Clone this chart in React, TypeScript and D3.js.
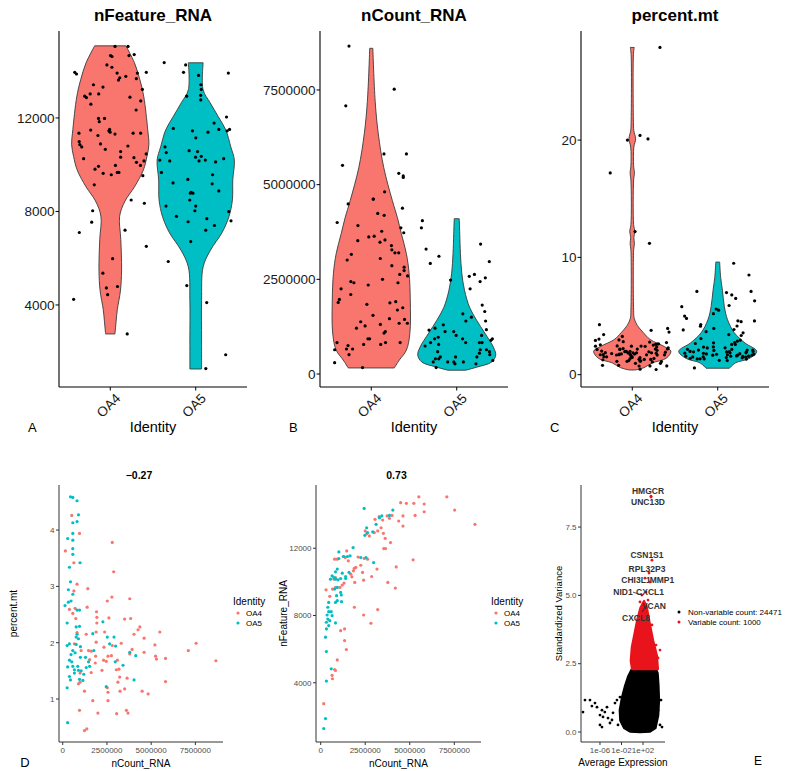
import React from "react";
import * as d3 from "d3";

// ---------------- DATA ----------------
const groups = ["OA4", "OA5"];
const groupColors = ["#F8766D", "#00BFC4"];

// nCount_RNA (millions) vs nFeature_RNA, read from the nFeature ~ nCount scatter
const oa4CountFeature: [number, number][] = [
  [7.08, 15060], [5.51, 15060], [7.52, 14270], [8.66, 13420], [4.49, 14710], [4.81, 14670], [5.23, 14670],
  [5.81, 14630], [5.81, 14170], [5.30, 13950], [4.62, 13920], [4.38, 13620], [4.62, 13320], [3.92, 12340],
  [3.54, 11980], [3.64, 11980], [3.62, 12590], [4.00, 13950], [3.86, 13780], [3.73, 13920], [3.48, 13680],
  [3.28, 13880], [3.05, 13720], [3.39, 13220], [3.20, 13030], [3.52, 12890], [3.01, 12930], [2.73, 12730],
  [2.59, 12870], [2.50, 13030], [5.19, 11310], [4.24, 10890], [4.19, 9630], [3.77, 9970], [3.16, 10760],
  [2.86, 10320], [3.20, 8350], [2.82, 7540], [2.41, 8030], [1.89, 8490], [2.41, 10100], [2.35, 10560],
  [2.25, 10990], [2.44, 11390], [2.63, 11350], [1.88, 10800], [1.97, 10860], [1.84, 10660], [1.69, 10460],
  [1.91, 9970], [1.38, 11450], [1.46, 11840], [1.27, 11510], [0.78, 11350], [0.93, 11350], [1.21, 9810],
  [1.31, 9930], [1.08, 9670], [0.83, 9670], [0.66, 9570], [0.51, 9140], [0.30, 9530], [0.75, 10160],
  [0.83, 10260], [1.34, 7200], [1.12, 7100], [1.34, 6510], [1.44, 5980], [0.93, 5360], [0.78, 4790],
  [0.83, 4730], [0.64, 4440], [0.66, 4240], [0.17, 2760], [1.55, 11250], [2.10, 11480], [1.75, 10300],
];
const oa5CountFeature: [number, number][] = [
  [2.44, 14370], [4.05, 14270], [3.86, 13950], [3.43, 13920], [3.30, 13820], [3.11, 13420], [2.92, 12970],
  [2.58, 13220], [2.48, 12770], [2.63, 12930], [1.82, 12040], [1.50, 11510], [1.65, 11550], [1.02, 11780],
  [1.02, 11390], [1.30, 11510], [2.54, 11450], [2.25, 11450], [2.97, 11150], [1.59, 10560], [1.40, 10320],
  [1.21, 10520], [0.93, 10760], [0.83, 10600], [0.74, 10260], [0.64, 10360], [0.55, 10160], [0.83, 10160],
  [0.97, 10120], [1.12, 10200], [1.40, 10200], [0.93, 9670], [1.12, 9370], [1.16, 9220], [0.78, 9570],
  [0.89, 9180], [0.93, 8880], [0.83, 8780], [1.17, 8820], [0.45, 8780], [0.40, 8490], [0.45, 8230],
  [0.59, 8230], [0.36, 8030], [0.64, 7990], [0.40, 7790], [0.32, 7600], [0.51, 7690], [0.45, 7400],
  [0.32, 7200], [0.83, 7560], [0.27, 6710], [0.32, 5860], [0.59, 4830], [0.32, 4100], [0.27, 1870], [0.17, 1280],
];

// nCount_RNA (millions) vs percent.mt, read from the percent.mt ~ nCount scatter
const oa4CountMt: [number, number][] = [
  [8.66, 1.68], [7.54, 1.99], [7.10, 1.86], [5.81, 1.72], [5.81, 1.31], [5.30, 1.71], [5.25, 1.76], [5.21, 1.96],
  [5.49, 2.19], [4.83, 1.09], [4.49, 1.14], [4.60, 1.83], [4.60, 2.08], [4.36, 2.28], [4.26, 2.23], [4.03, 2.15],
  [3.92, 1.88], [3.79, 1.80], [3.69, 0.75], [3.60, 0.80], [3.84, 2.43], [3.50, 2.42], [3.79, 2.78], [3.64, 1.37],
  [3.50, 1.18], [3.24, 1.14], [3.05, 0.74], [3.18, 1.53], [3.09, 1.69], [3.31, 1.99], [2.88, 3.26], [2.80, 3.78],
  [2.78, 2.81], [2.52, 2.74], [2.61, 2.44], [2.80, 1.95], [2.75, 1.77], [2.56, 1.76], [2.46, 1.67], [3.03, 1.52],
  [3.12, 1.30], [3.22, 1.39], [2.52, 1.20], [2.56, 1.12], [2.56, 0.97], [2.37, 2.19], [2.33, 1.92], [2.22, 1.51],
  [2.31, 1.69], [1.91, 2.55], [1.93, 2.45], [1.93, 2.35], [1.89, 2.19], [1.89, 2.01], [1.86, 1.76], [1.84, 1.64],
  [1.99, 0.75], [1.70, 0.97], [1.52, 1.70], [1.46, 1.86], [1.38, 2.63], [1.42, 2.96], [1.33, 2.15], [1.23, 1.14],
  [1.23, 0.44], [1.36, 0.47], [0.51, 4.26], [0.95, 3.94], [0.15, 3.63], [0.63, 3.42], [0.63, 2.92], [0.81, 3.04],
  [0.70, 2.61], [0.38, 2.59], [0.57, 2.52], [0.74, 2.43], [0.66, 1.98], [0.95, 0.80], [0.89, 1.27], [0.98, 1.30],
  [1.04, 1.86], [0.98, 1.46], [1.61, 1.47], [1.61, 1.85], [0.81, 2.18],
];
const oa5CountMt: [number, number][] = [
  [0.44, 4.59], [0.57, 4.58], [0.81, 4.52], [0.89, 4.27], [0.57, 4.13], [0.81, 4.15], [0.57, 3.94], [0.28, 3.85],
  [0.57, 3.82], [0.57, 3.67], [0.57, 3.57], [0.98, 3.42], [0.38, 3.34], [0.44, 3.08], [0.32, 2.94], [0.57, 2.86],
  [0.47, 2.74], [0.13, 2.66], [0.32, 2.72], [0.81, 2.58], [0.95, 2.58], [0.25, 2.35], [0.76, 2.28], [0.95, 2.29],
  [0.81, 2.15], [0.76, 2.10], [0.89, 2.07], [0.38, 1.98], [0.25, 1.95], [0.76, 1.97], [1.00, 1.93], [0.57, 1.86],
  [0.47, 1.79], [0.70, 1.82], [0.38, 1.69], [0.51, 1.66], [1.00, 1.74], [1.29, 1.74], [1.46, 1.66], [1.52, 1.58],
  [1.70, 2.16], [2.27, 2.37], [2.52, 2.10], [2.90, 2.10], [2.65, 1.98], [2.99, 1.94], [3.79, 1.83], [4.13, 1.77],
  [2.97, 1.66], [3.41, 1.60], [0.85, 1.58], [0.57, 1.58], [0.28, 1.57], [0.66, 1.52], [0.89, 1.51], [1.04, 1.50],
  [1.19, 1.44], [0.66, 1.46], [0.38, 1.40], [0.95, 1.35], [1.14, 1.33], [0.44, 1.34], [0.25, 1.20], [1.33, 1.56],
  [4.03, 1.34], [2.46, 1.22], [0.28, 0.58], [1.76, 1.86],
];

// high percent.mt cells only visible in the percent.mt violin
const oa4MtOutliers = [27.9, 20.0, 20.4, 20.1, 17.2, 12.2, 11.2];
const oa5MtOutliers = [9.5, 8.5, 7.1, 7.0, 7.1, 6.8, 6.5, 6.3, 5.8, 5.6, 5.9, 5.5, 5.2, 5.0, 4.8];

// violin density profiles: [value, relative half-width]
const featureProfileOA4: [number, number][] = [
  [2760, 0.12], [3300, 0.15], [3800, 0.18], [4600, 0.26], [5500, 0.29], [6800, 0.27], [7800, 0.24], [8450, 0.38],
  [9050, 0.62], [9780, 0.85], [10350, 0.94], [10850, 0.99], [11500, 0.96], [12900, 0.86], [13630, 0.76],
  [14360, 0.62], [15085, 0.40],
];
const featureProfileOA5: [number, number][] = [
  [1260, 0.15], [2500, 0.15], [4200, 0.15], [5630, 0.19], [6350, 0.38], [7080, 0.67], [7770, 0.85], [8490, 0.94],
  [9350, 0.95], [10200, 0.99], [10760, 0.90], [11490, 0.77], [12050, 0.58], [12650, 0.37], [13200, 0.19], [14360, 0.19],
];
const countProfileOA4: [number, number][] = [
  [160000, 0.59], [370000, 0.72], [630000, 0.9], [1080000, 0.99], [1950000, 1.0], [2660000, 0.97], [3180000, 0.9],
  [3710000, 0.77], [4130000, 0.67], [4580000, 0.54], [5450000, 0.32], [6340000, 0.18], [7200000, 0.1], [8600000, 0.04],
];
const countProfileOA5: [number, number][] = [
  [100000, 0.23], [180000, 0.51], [320000, 0.9], [500000, 1.0], [710000, 0.94], [1080000, 0.72], [1420000, 0.51],
  [1760000, 0.33], [2210000, 0.2], [2660000, 0.13], [3180000, 0.095], [3710000, 0.077], [4100000, 0.064],
];
const mtProfileOA4: [number, number][] = [
  [0.4, 0.08], [0.6, 0.3], [1.0, 0.51], [1.4, 0.87], [2.0, 0.99], [2.4, 0.82], [3.0, 0.46], [3.6, 0.28], [4.2, 0.13],
  [4.8, 0.05], [5.5, 0.035], [10.6, 0.035], [11.2, 0.055], [11.7, 0.04], [12.2, 0.065], [12.8, 0.035], [16.6, 0.035],
  [17.2, 0.055], [17.8, 0.035], [19.4, 0.04], [20.1, 0.085], [20.8, 0.04], [21.5, 0.03], [27.3, 0.03], [27.9, 0.05],
];
const mtProfileOA5: [number, number][] = [
  [0.55, 0.3], [1.0, 0.45], [1.4, 0.82], [2.0, 1.0], [2.7, 0.7], [3.6, 0.42], [4.7, 0.25], [5.8, 0.17], [7.2, 0.12],
  [8.3, 0.075], [9.6, 0.05],
];

// variable feature plot: [log10 average expression, standardized variance]
const nonVariableOutline: [number, number][] = [
  [-0.05, 2.3], [-0.7, 2.05], [-1.3, 1.7], [-1.9, 1.25], [-2.3, 0.8], [-2.2, 0.42], [-1.5, 0.15],
  [-0.4, 0.02], [1.44, 0.0], [3.3, 0.02], [4.3, 0.15], [4.8, 0.6], [4.95, 1.17], [4.85, 1.72], [4.7, 2.15], [4.4, 2.3],
];
const variableOutline: [number, number][] = [
  [-0.05, 2.3], [-0.3, 2.6], [-0.1, 3.1], [0.4, 3.6], [0.9, 4.1], [1.5, 4.55], [2.2, 4.8], [2.7, 4.6],
  [3.2, 4.05], [3.9, 3.35], [4.6, 2.8], [4.8, 2.3],
];
const nonVariableTail: [number, number][] = [
  [-8.79, 1.17], [-9.16, 0.73], [-7.86, 1.17], [-6.93, 1.06], [-6.56, 0.91], [-5.63, 0.8], [-6.0, 0.62],
  [-5.44, 0.55], [-6.0, 0.26], [-5.63, 0.18], [-4.51, 0.51], [-4.14, 0.33], [-3.58, 0.7], [-3.21, 1.06],
  [-2.84, 1.17], [-2.65, 0.26], [-4.7, 0.91], [-3.77, 0.44], [-2.28, 1.28], [4.79, 0.8], [5.16, 0.26],
  [5.53, 0.18], [3.86, 0.18], [5.35, 1.17], [-7.5, 0.95], [-5.1, 0.73],
];
const variableTail: [number, number][] = [
  [4.79, 2.71], [5.16, 3.0], [4.42, 3.18], [1.44, 4.76], [2.0, 4.57], [2.56, 4.46], [2.93, 4.83], [3.67, 3.92],
];
const geneNames = ["HMGCR", "UNC13D", "CSN1S1", "RPL32P3", "CHI3L1", "MMP1", "NID1", "CXCL1", "VCAN", "CXCL8"];
const geneLogMean = [3.49, 3.49, 3.67, 3.12, 2.37, 3.3, 1.81, 2.56, 1.81, 1.63];
const geneVariance = [8.63, 8.6, 6.29, 5.82, 5.63, 5.49, 5.01, 5.12, 4.39, 4.21];
const nonVariableCount = 24471;
const variableCount = 1000;

// ------------- layout (pixels) -------------
const geneLabelOffset: [number, number][] = [
  [-3, -5], [-3, 5], [-5, -5], [-2, -4], [-9, 2], [12, -2], [-19, -3], [4, 0], [12, -6], [-5, 1],
];
const FONT = "'Liberation Sans', Arial, Helvetica, sans-serif";

const jitter = (i: number, seed: number) => {
  const s = Math.sin((i + 1) * 12.9898 + seed * 78.233) * 43758.5453;
  return s - Math.floor(s) - 0.5;
};

type ViolinProps = {
  title: string;
  left: number;
  right: number;
  yDomain: [number, number];
  ticks: number[];
  profiles: [number, number][][];
  points: number[][];
  letter: string;
  seed: number;
};

function ViolinPanel({ title, left, right, yDomain, ticks, profiles, points, letter, seed }: ViolinProps) {
  const top = 31, bottom = 387;
  const x = d3.scalePoint<string>().domain(groups).range([left, right]).padding(0.6);
  const y = d3.scaleLinear().domain(yDomain).range([bottom, top]);
  const w = d3.scaleLinear().domain([0, 1]).range([0, 39]);
  const mid = (left + right) / 2;
  return (
    <g>
      <text x={mid} y={21} textAnchor="middle" fontFamily={FONT} fontWeight="bold" fontSize={17} fill="#000">{title}</text>
      {groups.map((g, gi) => {
        const cx = x(g)!;
        const area = d3.area<[number, number]>()
          .y((d) => y(d[0]))
          .x0((d) => cx - w(d[1]))
          .x1((d) => cx + w(d[1]))
          .curve(d3.curveCatmullRom.alpha(0.5));
        return (
          <path key={g} d={area(profiles[gi]) || ""} fill={groupColors[gi]} stroke="#3a3a3a" strokeWidth={0.9} />
        );
      })}
      {groups.map((g, gi) => {
        const cx = x(g)!;
        return points[gi].map((v, i) => (
          <circle key={g + i} cx={cx + jitter(i, seed + gi) * 74} cy={y(v)} r={1.6} fill="#000" />
        ));
      })}
      <line x1={left} x2={left} y1={top} y2={bottom} stroke="#000" strokeWidth={1.1} />
      <line x1={left} x2={right} y1={bottom} y2={bottom} stroke="#000" strokeWidth={1.1} />
      {ticks.map((t) => (
        <g key={t}>
          <line x1={left - 3.5} x2={left} y1={y(t)} y2={y(t)} stroke="#000" strokeWidth={1} />
          <text x={left - 4.5} y={y(t)} dy="0.35em" textAnchor="end" fontFamily={FONT} fontSize={13.5} fill="#1a1a1a">
            {d3.format("d")(t)}
          </text>
        </g>
      ))}
      {groups.map((g) => (
        <g key={g}>
          <line x1={x(g)!} x2={x(g)!} y1={bottom} y2={bottom + 3.5} stroke="#000" strokeWidth={1} />
          <text transform={`translate(${x(g)! + 4},${bottom + 5}) rotate(-45)`} dy="0.75em" textAnchor="end"
            fontFamily={FONT} fontSize={13.5} fill="#1a1a1a">{g}</text>
        </g>
      ))}
      <text x={mid} y={432} textAnchor="middle" fontFamily={FONT} fontSize={14.5} fill="#000">Identity</text>
      <text x={left - 31} y={432} textAnchor="start" fontFamily={FONT} fontSize={13} fill="#000">{letter}</text>
    </g>
  );
}

type ScatterProps = {
  title: string;
  left: number;
  right: number;
  xDomain: [number, number];
  yDomain: [number, number];
  yTicks: number[];
  yFormat: (v: number) => string;
  series: [number, number][][];
  yLabel: string;
  yLabelX: number;
};

const TOP2 = 485, BOT2 = 742;
function ScatterPanel({ title, left, right, xDomain, yDomain, yTicks, yFormat, series, yLabel, yLabelX }: ScatterProps) {
  const x = d3.scaleLinear().domain(xDomain).range([left, right]);
  const y = d3.scaleLinear().domain(yDomain).range([BOT2, TOP2]);
  const xTicks = [0, 2500000, 5000000, 7500000];
  const mid = (left + right) / 2;
  const lx = right + 10;
  return (
    <g>
      <text x={mid - 2} y={479} textAnchor="middle" fontFamily={FONT} fontWeight="bold" fontSize={10.5} fill="#000">{title}</text>
      {series.map((s, gi) =>
        s.map((d, i) => (
          <circle key={gi + "-" + i} cx={x(d[0] * 1e6)} cy={y(d[1])} r={1.6} fill={groupColors[gi]} />
        ))
      )}
      <line x1={left} x2={left} y1={TOP2} y2={BOT2} stroke="#333" strokeWidth={1} />
      <line x1={left} x2={right} y1={BOT2} y2={BOT2} stroke="#333" strokeWidth={1} />
      {yTicks.map((t) => (
        <g key={t}>
          <line x1={left - 3} x2={left} y1={y(t)} y2={y(t)} stroke="#333" />
          <text x={left - 4.5} y={y(t)} dy="0.35em" textAnchor="end" fontFamily={FONT} fontSize={8} fill="#4d4d4d">{yFormat(t)}</text>
        </g>
      ))}
      {xTicks.map((t) => (
        <g key={t}>
          <line x1={x(t)} x2={x(t)} y1={BOT2} y2={BOT2 + 3} stroke="#333" />
          <text x={x(t)} y={BOT2 + 11} textAnchor="middle" fontFamily={FONT} fontSize={8} fill="#4d4d4d">{t}</text>
        </g>
      ))}
      <text x={mid} y={767} textAnchor="middle" fontFamily={FONT} fontSize={10} fill="#000">nCount_RNA</text>
      <text transform={`translate(${yLabelX},${(TOP2 + BOT2) / 2}) rotate(-90)`} textAnchor="middle" dy="0.35em"
        fontFamily={FONT} fontSize={10} fill="#000">{yLabel}</text>
      <text x={lx} y={605} fontFamily={FONT} fontSize={10} fill="#000">Identity</text>
      {groups.map((g, gi) => (
        <g key={g}>
          <circle cx={lx + 5} cy={613 + gi * 10} r={1.6} fill={groupColors[gi]} />
          <text x={lx + 13} y={613 + gi * 10} dy="0.35em" fontFamily={FONT} fontSize={8} fill="#000">{g}</text>
        </g>
      ))}
    </g>
  );
}

function VariablePanel() {
  const left = 581, right = 665;
  const x = d3.scaleLog().domain([Math.pow(10, -9.53), Math.pow(10, 6.09)]).range([left, right]);
  const y = d3.scaleLinear().domain([-0.366, 9.04]).range([BOT2, TOP2]);
  const px = (d: [number, number]) => x(Math.pow(10, d[0]));
  const line = d3.line<[number, number]>().x(px).y((d) => y(d[1])).curve(d3.curveLinearClosed);
  const xTicks = [1e-6, 1e-2, 1e2];
  const yTicks = [0, 2.5, 5, 7.5];
  return (
    <g>
      <path d={line(nonVariableOutline) || ""} fill="#000" stroke="#000" strokeWidth={2.5} strokeLinejoin="round" />
      <path d={line(variableOutline) || ""} fill="#E8131B" stroke="#E8131B" strokeWidth={2} strokeLinejoin="round" />
      {nonVariableTail.map((d, i) => (
        <circle key={"n" + i} cx={px(d)} cy={y(d[1])} r={1.4} fill="#000" />
      ))}
      {variableTail.map((d, i) => (
        <circle key={"v" + i} cx={px(d)} cy={y(d[1])} r={1.4} fill="#E8131B" />
      ))}
      {geneNames.map((g, i) => {
        const cx = px([geneLogMean[i], 0]);
        const cy = y(geneVariance[i]);
        const lxp = cx + geneLabelOffset[i][0];
        const lyp = cy + geneLabelOffset[i][1];
        const far = Math.abs(geneLabelOffset[i][0]) > 15 || i === 8;
        return (
          <g key={g}>
            <circle cx={cx} cy={cy} r={1.4} fill="#E8131B" />
            {far && (
              <line x1={cx} y1={cy} x2={lxp + (geneLabelOffset[i][0] < 0 ? 10 : -8)} y2={lyp} stroke="#222" strokeWidth={0.8} />
            )}
            <text x={lxp} y={lyp} dy="0.35em" textAnchor="middle" fontFamily={FONT} fontWeight="bold" fontSize={8.5} fill="#333">{g}</text>
          </g>
        );
      })}
      <line x1={left} x2={left} y1={TOP2} y2={BOT2} stroke="#333" />
      <line x1={left} x2={right} y1={BOT2} y2={BOT2} stroke="#333" />
      {yTicks.map((t) => (
        <g key={t}>
          <line x1={left - 3} x2={left} y1={y(t)} y2={y(t)} stroke="#333" />
          <text x={left - 4.5} y={y(t)} dy="0.35em" textAnchor="end" fontFamily={FONT} fontSize={8} fill="#4d4d4d">{d3.format(".1f")(t)}</text>
        </g>
      ))}
      {xTicks.map((t) => (
        <g key={t}>
          <line x1={x(t)} x2={x(t)} y1={BOT2} y2={BOT2 + 3} stroke="#333" />
          <text x={x(t)} y={BOT2 + 11} textAnchor="middle" fontFamily={FONT} fontSize={8} fill="#4d4d4d">
            {d3.format(".0e")(t).replace(/e([+-])(\d)$/, "e$10$2")}
          </text>
        </g>
      ))}
      <text x={623} y={766} textAnchor="middle" fontFamily={FONT} fontSize={10} fill="#000">Average Expression</text>
      <text transform={`translate(559,${(TOP2 + BOT2) / 2}) rotate(-90)`} textAnchor="middle" dy="0.35em"
        fontFamily={FONT} fontSize={9.5} fill="#000">Standardized Variance</text>
      <circle cx={679} cy={612} r={1.5} fill="#000" />
      <text x={688} y={612} dy="0.35em" fontFamily={FONT} fontSize={8} fill="#000">{`Non-variable count: ${nonVariableCount}`}</text>
      <circle cx={679} cy={622} r={1.5} fill="#E8131B" />
      <text x={688} y={622} dy="0.35em" fontFamily={FONT} fontSize={8} fill="#000">{`Variable count: ${variableCount}`}</text>
    </g>
  );
}

export default function App() {
  const featureOA4 = oa4CountFeature.map((d) => d[1]);
  const featureOA5 = oa5CountFeature.map((d) => d[1]);
  const countOA4 = oa4CountFeature.map((d) => d[0] * 1e6);
  const countOA5 = oa5CountFeature.map((d) => d[0] * 1e6);
  const mtOA4 = oa4CountMt.map((d) => d[1]).concat(oa4MtOutliers);
  const mtOA5 = oa5CountMt.map((d) => d[1]).concat(oa5MtOutliers);
  return (
    <svg width={800} height={771} style={{ position: "absolute", left: 0, top: 0, background: "#fff" }}>
      <rect width={800} height={771} fill="#fff" />
      <ViolinPanel title="nFeature_RNA" left={59} right={247} yDomain={[490, 15720]} ticks={[4000, 8000, 12000]}
        profiles={[featureProfileOA4, featureProfileOA5]} points={[featureOA4, featureOA5]} letter="A" seed={1} />
      <ViolinPanel title="nCount_RNA" left={320} right={508} yDomain={[-343000, 9057000]} ticks={[0, 2500000, 5000000, 7500000]}
        profiles={[countProfileOA4, countProfileOA5]} points={[countOA4, countOA5]} letter="B" seed={5} />
      <ViolinPanel title="percent.mt" left={581} right={769} yDomain={[-1.05, 29.3]} ticks={[0, 10, 20]}
        profiles={[mtProfileOA4, mtProfileOA5]} points={[mtOA4, mtOA5]} letter="C" seed={9} />
      <ScatterPanel title="−0.27" left={59} right={223} xDomain={[-210000, 9060000]} yDomain={[0.237, 4.8]}
        yTicks={[1, 2, 3, 4]} yFormat={(v) => String(v)} series={[oa4CountMt, oa5CountMt]} yLabel="percent.mt" yLabelX={13} />
      <ScatterPanel title="0.73" left={316} right={481} xDomain={[-264000, 9000000]} yDomain={[478, 15761]}
        yTicks={[4000, 8000, 12000]} yFormat={(v) => String(v)} series={[oa4CountFeature, oa5CountFeature]} yLabel="nFeature_RNA" yLabelX={283} />
      <VariablePanel />
      <text x={25} y={767} textAnchor="middle" fontFamily={FONT} fontSize={13} fill="#000">D</text>
      <text x={758} y={765} textAnchor="middle" fontFamily={FONT} fontSize={12} fill="#000">E</text>
    </svg>
  );
}
